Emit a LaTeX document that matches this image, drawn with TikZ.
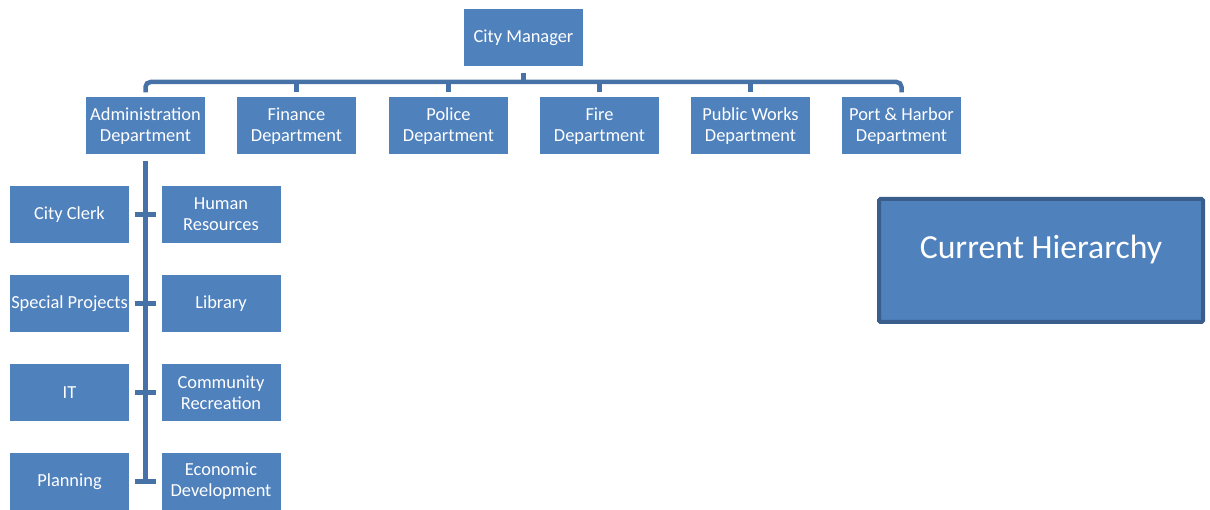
\documentclass[tikz,border=0pt]{standalone}
\usepackage{fontspec}
\setmainfont{Carlito}
\usetikzlibrary{calc}
\definecolor{boxblue}{HTML}{4F81BD}
\definecolor{linkblue}{HTML}{4672A8}
\definecolor{edgeblue}{HTML}{3A5E8C}
\begin{document}
\begin{tikzpicture}[x=1pt,y=-1pt,
  orgbox/.style={fill=boxblue, draw=none, text=white, minimum width=119pt, minimum height=57pt,
    inner sep=0pt, align=center, font=\fontsize{18.4}{21}\selectfont},
  conn/.style={draw=linkblue, line width=4.5pt},
  titlebox/.style={fill=boxblue, draw=edgeblue, line width=4pt, rounded corners=1.5pt, text=white,
    minimum width=324pt, inner sep=0pt, text height=60pt, text depth=63pt,
    font=\fontsize{33.7}{36}\selectfont}]
\useasboundingbox (0,0) rectangle (1210,510);
% top
\node[orgbox] (cm) at (523.5,38) {City Manager};
\coordinate (bus) at (523.5,82);
% departments
\node[orgbox] (adm) at (145.5,126) {Administration\\Department};
\node[orgbox] (fin) at (296.5,126) {Finance\\Department};
\node[orgbox] (pol) at (448.5,126) {Police\\Department};
\node[orgbox] (fire) at (599.5,126) {Fire\\Department};
\node[orgbox] (pw) at (750.5,126) {Public Works\\Department};
\node[orgbox] (port) at (901.5,126) {Port \& Harbor\\Department};
% admin subunits
\node[orgbox] (clerk) at (69.5,214.5) {City Clerk};
\node[orgbox] (hr) at (221,214.5) {Human\\Resources};
\node[orgbox] (spec) at (69.5,303.5) {Special Projects};
\node[orgbox] (lib) at (221,303.5) {Library};
\node[orgbox] (it) at (69.5,392.5) {IT};
\node[orgbox] (rec) at (221,392.5) {Community\\Recreation};
\node[orgbox] (plan) at (69.5,481.5) {Planning};
\node[orgbox] (econ) at (221,481.5) {Economic\\Development};
% title
\node[titlebox] (title) at (1041,260.5) {Current Hierarchy};
% connectors top
\draw[conn, shorten <=6pt] (cm.south) -- (cm.south |- bus);
\draw[conn, rounded corners=5pt, shorten <=5pt, shorten >=5pt] (adm.north) |- (bus) -| (port.north);
\foreach \d in {fin,pol,fire,pw}{
  \draw[conn, shorten <=5pt] (\d.north) -- (\d.north |- bus);
}
% spine
\coordinate (spineend) at ($(plan.east)!0.5!(econ.west)$);
\draw[conn, shorten <=6pt, shorten >=-1pt] (adm.south) -- (adm.south |- spineend);
\foreach \l/\r in {clerk/hr,spec/lib,it/rec,plan/econ}{
  \draw[conn, shorten <=6pt, shorten >=5pt] (\l.east) -- (\r.west);
}
\end{tikzpicture}
\end{document}
